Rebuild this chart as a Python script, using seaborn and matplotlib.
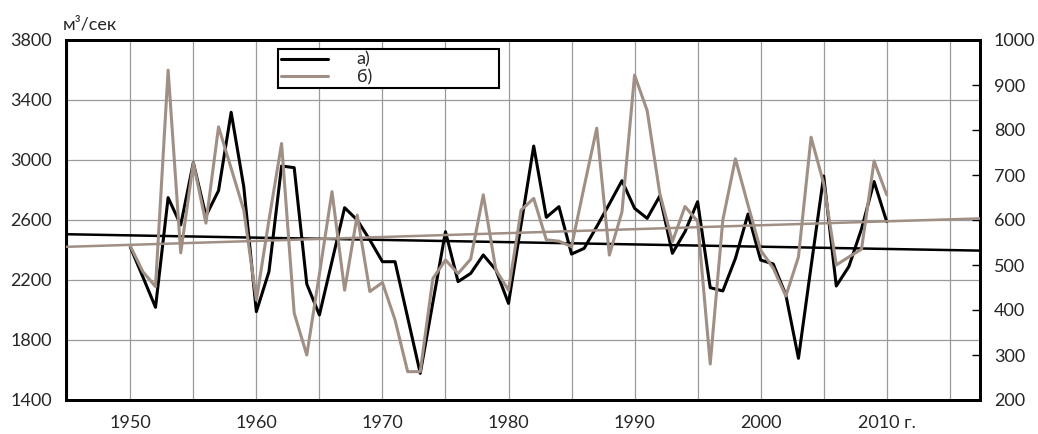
import numpy as np
import pandas as pd
import matplotlib
matplotlib.use("Agg")
import matplotlib.pyplot as plt
import seaborn as sns
from matplotlib.lines import Line2D
from matplotlib.ticker import MultipleLocator

# Данные
years = list(range(1950, 2011))
flow_a = [2420, 2220, 2018, 2749, 2567, 2982, 2627, 2796, 3318, 2822,
          1989, 2256, 2960, 2949, 2173, 1967, 2325, 2682, 2600, 2467,
          2322, 2322, 1950, 1578, 2050, 2522, 2189, 2244, 2367, 2267,
          2044, 2570, 3093, 2618, 2689, 2373, 2411, 2556, 2707, 2862,
          2678, 2611, 2760, 2378, 2522, 2722, 2149, 2127, 2344, 2640,
          2333, 2307, 2100, 1678, 2290, 2893, 2160, 2290, 2540, 2856,
          2589]
flow_b = [542, 485, 452, 933, 527, 727, 593, 807, 715, 622,
          422, 600, 770, 393, 300, 480, 663, 444, 611, 441,
          461, 378, 263, 263, 470, 511, 481, 513, 656, 489,
          444, 622, 648, 556, 553, 541, 674, 804, 522, 618,
          922, 843, 659, 552, 630, 597, 280, 600, 736, 633,
          533, 493, 431, 518, 784, 681, 500, 518, 535, 731,
          656]
labels = ["а)", "б)"]
xticks = [1950, 1960, 1970, 1980, 1990, 2000, 2010]
xticklabels = ["1950", "1960", "1970", "1980", "1990", "2000", "2010 г."]

df = pd.DataFrame({"year": years, "a": flow_a, "b": flow_b})

sns.set_theme(style="white")
plt.rcParams['font.family'] = ['Lato', 'DejaVu Sans']
plt.rcParams['font.size'] = 13

black = "#000000"
brown = "#A08F85"

fig = plt.figure(figsize=(10.38, 4.34), dpi=100)
ax = fig.add_axes([66 / 1038, 1 - 400 / 434, 914 / 1038, 360 / 434])
ax2 = ax.twinx()

xmin, xmax = 1944.9, 2017.4
ax.set_xlim(xmin, xmax)

# ряды
sns.lineplot(data=df, x="year", y="a", ax=ax, color=black, linewidth=2.2, zorder=3)
sns.lineplot(data=df, x="year", y="b", ax=ax2, color=brown, linewidth=2.2, zorder=3)

# линейные тренды на всю ширину оси
sns.regplot(data=df, x="year", y="a", ax=ax, scatter=False, ci=None,
            truncate=False, line_kws=dict(color=black, linewidth=1.8, zorder=4))
sns.regplot(data=df, x="year", y="b", ax=ax2, scatter=False, ci=None,
            truncate=False, line_kws=dict(color=brown, linewidth=1.8, zorder=4))

ax.set_xlim(xmin, xmax)
ax.set_ylim(1400, 3800)
ax2.set_ylim(200, 1000)

ax.set_yticks(np.arange(1400, 3801, 400))
ax2.set_yticks(np.arange(200, 1001, 100))
ax.set_xticks(xticks)
ax.set_xticklabels(xticklabels)
ax.xaxis.set_minor_locator(MultipleLocator(5))

ax.grid(True, which="both", axis="x", color="#9a9a9a", linewidth=0.9)
ax.grid(True, which="major", axis="y", color="#9a9a9a", linewidth=0.9)
ax.set_axisbelow(True)

ax.tick_params(axis="y", length=0, pad=10, labelsize=13)
ax.tick_params(axis="x", which="both", length=0, pad=11, labelsize=13)
ax2.tick_params(axis="y", direction="in", length=6, width=1, color=black,
                pad=10, labelsize=13, right=True)
ax2.grid(False)

for a in (ax, ax2):
    a.set_xlabel("")
    a.set_ylabel("")
    for s in a.spines.values():
        s.set_color(black)
        s.set_linewidth(2)

fig.text(63 / 1038, 1 - 25 / 434, "м³/сек", ha="left", va="center", fontsize=13)

handles = [Line2D([], [], color=black, linewidth=2.2),
           Line2D([], [], color=brown, linewidth=2.2)]
leg = ax2.legend(handles, labels, loc="upper left",
                 bbox_to_anchor=(212 / 914, 1 - 52 / 360, 221 / 914, 43 / 360),
                 mode="expand", fontsize=13, frameon=True, fancybox=False,
                 handlelength=2.6, labelspacing=0.1, borderpad=0.15,
                 handletextpad=1.6, borderaxespad=0)
leg.get_frame().set_edgecolor(black)
leg.get_frame().set_linewidth(1.5)
leg.get_frame().set_alpha(1)

fig.savefig("out.png", dpi=100)
